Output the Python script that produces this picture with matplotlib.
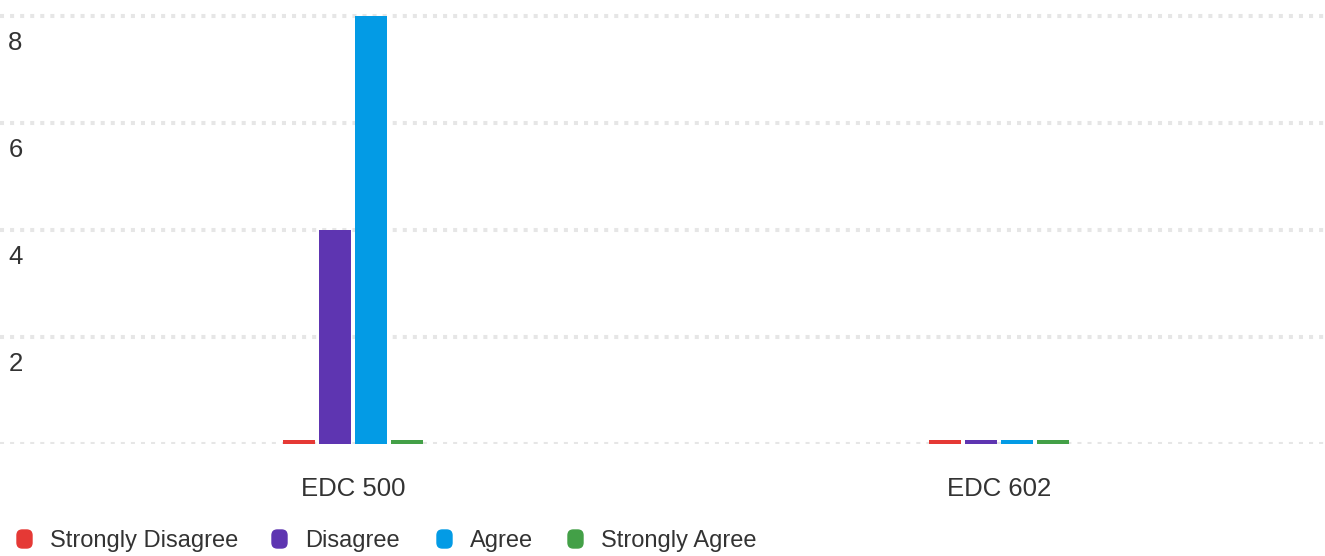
import matplotlib.pyplot as plt
from matplotlib.patches import FancyBboxPatch

plt.rcParams['font.family'] = ['Liberation Sans', 'DejaVu Sans']

courses = ["EDC 500", "EDC 602"]
responses = ["Strongly Disagree", "Disagree", "Agree", "Strongly Agree"]
counts = {
    "Strongly Disagree": [0, 0],
    "Disagree": [4, 0],
    "Agree": [8, 0],
    "Strongly Agree": [0, 0],
}
colors = ["#e53935", "#5e35b1", "#039be5", "#43a047"]
y_ticks = [2, 4, 6, 8]

W, H = 1325, 556
fig = plt.figure(figsize=(W / 100, H / 100), dpi=100)
ax = fig.add_axes([0, 112 / H, 1, 444 / H])
ax.set_xlim(-353 / 646, (W - 353) / 646)
ax.set_ylim(0, 8 + 16.5 / 53.44)
for s in ax.spines.values():
    s.set_visible(False)

# dotted horizontal grid
for v in [0] + y_ticks:
    ax.axhline(v, color="#e6e6e6", lw=2.9, ls=(0, (1, 1.5)),
               dash_capstyle="butt", zorder=0)

step = 36 / 646
width = 32 / 646
stub = 0.075  # zero counts still show a thin sliver
for i, (resp, col) in enumerate(zip(responses, colors)):
    xs = [k + (i - 1.5) * step for k in range(len(courses))]
    heights = [max(v, stub) for v in counts[resp]]
    ax.bar(xs, heights, width=width, color=col, zorder=2)

ax.set_yticks([])
ax.set_xticks(range(len(courses)))
ax.set_xticklabels(courses, fontsize=18.5, color="#333333")
ax.tick_params(axis="x", length=0, pad=24)

for v in y_ticks:
    ax.annotate(str(v), xy=(0, v), xycoords=("axes fraction", "data"),
                xytext=(6, -10.5), textcoords="offset points",
                ha="left", va="top", fontsize=18.5, color="#333333")

# legend row
marker_x = [17, 272, 437, 568]
for resp, col, mx in zip(responses, colors, marker_x):
    y0 = 530
    box = FancyBboxPatch((mx / W, 1 - (y0 + 18) / H), 15 / W, 18 / H,
                         boxstyle="round,pad=0,rounding_size=0.004",
                         transform=fig.transFigure, color=col,
                         mutation_aspect=W / H)
    fig.patches.append(box)
    fig.text((mx + 33) / W, 1 - 541 / H, resp, fontsize=17, color="#333333",
             ha="left", va="center")

fig.savefig("out.png", dpi=100)
